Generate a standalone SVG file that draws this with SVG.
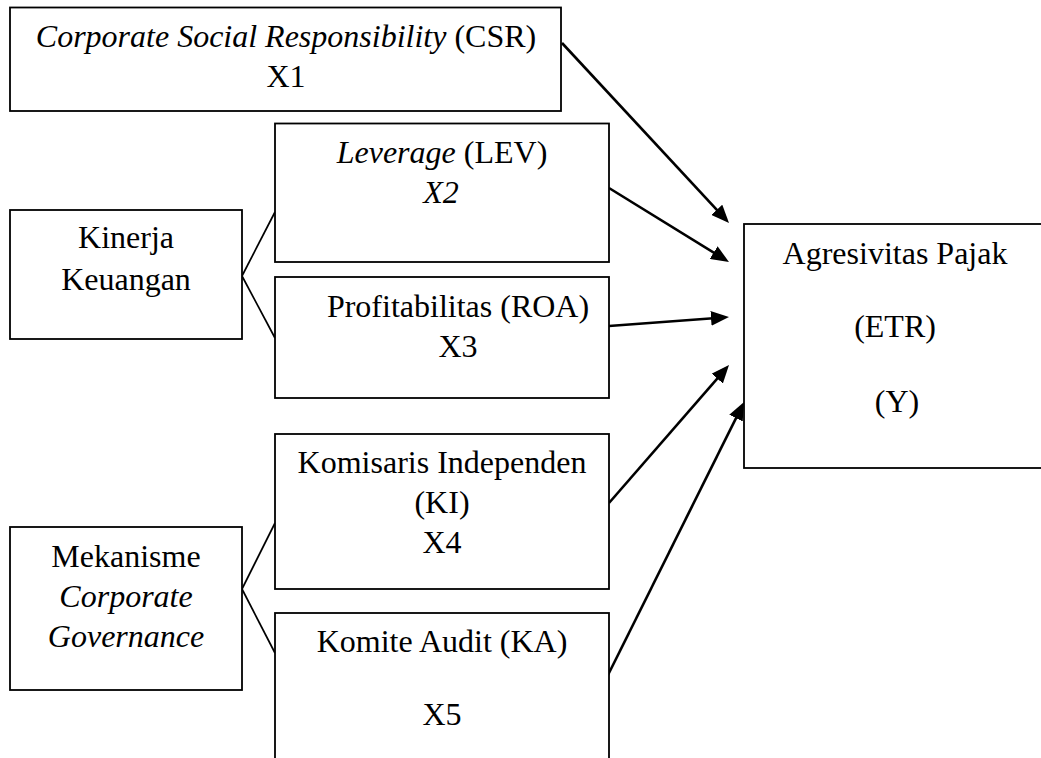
<svg xmlns="http://www.w3.org/2000/svg" width="1041" height="758" viewBox="0 0 1041 758">
<style>
rect.box{fill:#fff;stroke:#000;stroke-width:1.8}
text{font-family:"Liberation Serif","Times New Roman",serif;font-size:32px;fill:#000;text-anchor:middle}
.it{font-style:italic}
.link{stroke:#000;stroke-width:1.7;fill:none}
.arrow{stroke:#000;stroke-width:2.6;fill:none;marker-end:url(#ah)}
</style>
<defs>
<marker id="ah" markerUnits="userSpaceOnUse" markerWidth="18" markerHeight="15" refX="9" refY="7.5" orient="auto">
<path d="M0,0 L18,7.5 L0,15 z" fill="#000"/>
</marker>
</defs>
<rect width="1041" height="758" fill="#fff"/>
<g id="connectors">
<line class="link" x1="242" y1="276" x2="275" y2="212"/>
<line class="link" x1="242" y1="276" x2="275" y2="338"/>
<line class="link" x1="242" y1="589" x2="275" y2="523"/>
<line class="link" x1="242" y1="589" x2="275" y2="653"/>
<line class="arrow" x1="562" y1="43" x2="722.9" y2="216.4"/>
<line class="arrow" x1="609" y1="188" x2="721.3" y2="257.3"/>
<line class="arrow" x1="609" y1="326" x2="720" y2="317.7"/>
<line class="arrow" x1="609" y1="503" x2="723.1" y2="371.8"/>
<line class="arrow" x1="608" y1="675" x2="740" y2="410.1"/>
</g>
<g id="csr">
<rect class="box" x="10" y="7.5" width="551" height="103.5"/>
<text x="286" y="47"><tspan class="it">Corporate Social Responsibility</tspan> (CSR)</text>
<text x="286" y="87">X1</text>
</g>
<g id="kinerja">
<rect class="box" x="10" y="210" width="232" height="129"/>
<text x="126" y="248">Kinerja</text>
<text x="126" y="290">Keuangan</text>
</g>
<g id="lev">
<rect class="box" x="275" y="123.5" width="334" height="138.5"/>
<text x="442" y="163"><tspan class="it">Leverage</tspan> (LEV)</text>
<text x="441" y="203" class="it">X2</text>
</g>
<g id="roa">
<rect class="box" x="275" y="277" width="334" height="121"/>
<text x="458" y="317">Profitabilitas (ROA)</text>
<text x="458" y="357">X3</text>
</g>
<g id="mekanisme">
<rect class="box" x="10" y="527" width="232" height="163"/>
<text x="126" y="567">Mekanisme</text>
<text x="126" y="607" class="it">Corporate</text>
<text x="126" y="647" class="it">Governance</text>
</g>
<g id="ki">
<rect class="box" x="275" y="434" width="334" height="155"/>
<text x="442" y="473">Komisaris Independen</text>
<text x="442" y="513">(KI)</text>
<text x="442" y="553">X4</text>
</g>
<g id="ka">
<rect class="box" x="275" y="613" width="334" height="170"/>
<text x="442" y="652">Komite Audit (KA)</text>
<text x="442" y="725">X5</text>
</g>
<g id="agresivitas">
<rect class="box" x="744" y="224" width="310" height="244"/>
<text x="895" y="264">Agresivitas Pajak</text>
<text x="895" y="337">(ETR)</text>
<text x="897" y="412">(Y)</text>
</g>
</svg>
